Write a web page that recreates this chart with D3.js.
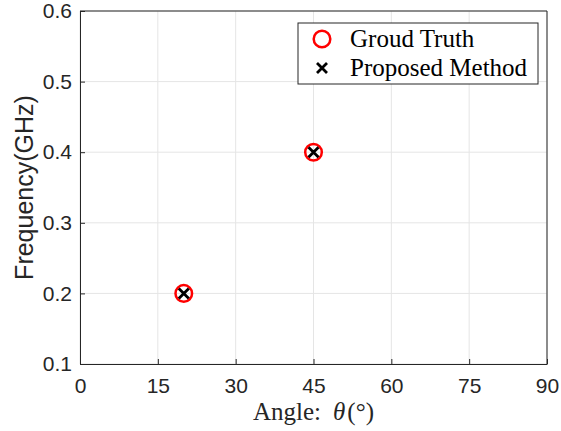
<!DOCTYPE html>
<html>
<head>
<meta charset="utf-8">
<script src="https://cdn.jsdelivr.net/npm/d3@7"></script>
<style>
  body { margin: 0; background: #fff; }
  svg { display: block; }
</style>
</head>
<body>
<svg id="chart" width="561" height="431"></svg>
<script>
// data
var angles = [20, 45];
var truthFreq = [0.2, 0.4];
var estFreq = [0.2, 0.4];
var xTicks = [0, 15, 30, 45, 60, 75, 90];
var yTicks = [0.1, 0.2, 0.3, 0.4, 0.5, 0.6];
var legendNames = ["Groud Truth", "Proposed Method"];

var svg = d3.select("#chart"),
    margin = {top: 11, right: 14, bottom: 67, left: 80},
    width = +svg.attr("width") - margin.left - margin.right,
    height = +svg.attr("height") - margin.top - margin.bottom,
    g = svg.append("g").attr("transform", "translate(" + margin.left + "," + margin.top + ")");

var x = d3.scaleLinear().domain([0, 90]).range([0, width]),
    y = d3.scaleLinear().domain([0.1, 0.6]).range([height, 0]);

var axisColor = "#262626";

// grid
g.append("g").selectAll("line.gx")
  .data(xTicks).enter().append("line")
    .attr("x1", function(d) { return x(d); }).attr("x2", function(d) { return x(d); })
    .attr("y1", 0).attr("y2", height)
    .attr("stroke", "#e5e5e5").attr("stroke-width", 1);
g.append("g").selectAll("line.gy")
  .data(yTicks).enter().append("line")
    .attr("y1", function(d) { return y(d); }).attr("y2", function(d) { return y(d); })
    .attr("x1", 0).attr("x2", width)
    .attr("stroke", "#e5e5e5").attr("stroke-width", 1);

// axes, ticks pointing inward like matlab
var xAxis = g.append("g")
    .attr("transform", "translate(0," + height + ")")
    .call(d3.axisBottom(x).tickValues(xTicks).tickSizeInner(-5).tickSizeOuter(0).tickPadding(14));
var yAxis = g.append("g")
    .call(d3.axisLeft(y).tickValues(yTicks).tickFormat(d3.format(".1f")).tickSizeInner(-5).tickSizeOuter(0).tickPadding(8));

[xAxis, yAxis].forEach(function(a) {
  a.select(".domain").attr("stroke", axisColor);
  a.selectAll(".tick line").attr("stroke", axisColor);
  a.selectAll("text")
    .attr("fill", axisColor)
    .style("font-family", "Liberation Sans, Arial, sans-serif")
    .style("font-size", "21px");
});

// box top / right
g.append("line").attr("x1", 0).attr("x2", width).attr("y1", 0).attr("y2", 0).attr("stroke", axisColor);
g.append("line").attr("x1", width).attr("x2", width).attr("y1", 0).attr("y2", height).attr("stroke", axisColor);

// labels
svg.append("text")
    .attr("transform", "translate(33," + (margin.top + height / 2) + ") rotate(-90)")
    .attr("text-anchor", "middle")
    .attr("fill", axisColor)
    .style("font-family", "Liberation Sans, Arial, sans-serif")
    .style("font-size", "25px")
    .text("Frequency(GHz)");

var xl = svg.append("text")
    .attr("x", margin.left + width / 2)
    .attr("y", 420)
    .attr("text-anchor", "middle")
    .attr("fill", axisColor)
    .style("font-family", "Liberation Serif, Times New Roman, serif")
    .style("font-size", "25px");
xl.append("tspan").text("Angle:");
xl.append("tspan").attr("dx", 12).style("font-style", "italic").text("θ");
xl.append("tspan").attr("dx", 2).text("(°)");

// markers
function cross(sel, s) {
  sel.append("path")
    .attr("d", "M" + (-s) + "," + (-s) + "L" + s + "," + s + "M" + (-s) + "," + s + "L" + s + "," + (-s))
    .attr("stroke", "#000").attr("stroke-width", 2.8).attr("fill", "none");
}

g.selectAll("circle.truth")
  .data(angles).enter().append("circle")
    .attr("cx", function(d) { return x(d); })
    .attr("cy", function(d, i) { return y(truthFreq[i]); })
    .attr("r", 8.3)
    .attr("fill", "none").attr("stroke", "#ff0000").attr("stroke-width", 2.5);

g.selectAll("g.est")
  .data(angles).enter().append("g")
    .attr("transform", function(d, i) { return "translate(" + x(d) + "," + y(estFreq[i]) + ")"; })
    .each(function() { cross(d3.select(this), 5); });

// legend
var lg = svg.append("g").attr("transform", "translate(298,23)");
lg.append("rect").attr("width", 240).attr("height", 61)
  .attr("fill", "#fff").attr("stroke", axisColor).attr("stroke-width", 1);
lg.append("circle").attr("cx", 24).attr("cy", 16).attr("r", 8.3)
  .attr("fill", "none").attr("stroke", "#ff0000").attr("stroke-width", 2.5);
lg.append("g").attr("transform", "translate(24,45)").call(function(s) { cross(s, 5); });
lg.selectAll("text.name")
  .data(legendNames).enter().append("text")
    .attr("x", 52)
    .attr("y", function(d, i) { return 24 + i * 29; })
    .attr("fill", "#000")
    .style("font-family", "Liberation Serif, Times New Roman, serif")
    .style("font-size", "25px")
    .text(function(d) { return d; });
</script>
</body>
</html>
